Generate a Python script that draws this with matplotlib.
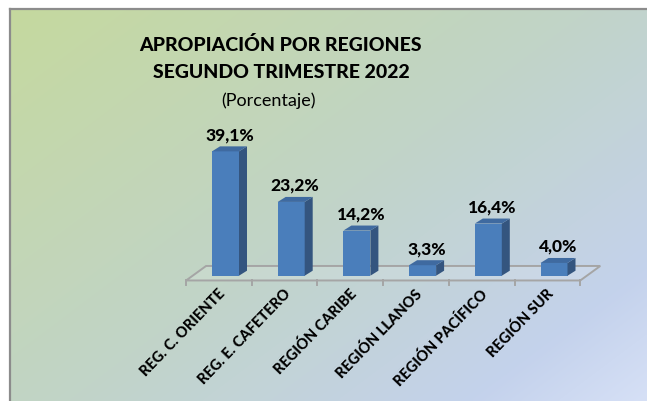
import numpy as np
import matplotlib
matplotlib.use("Agg")
import matplotlib.pyplot as plt
from matplotlib.patches import Polygon
from matplotlib.lines import Line2D

plt.rcParams['font.family'] = ['Lato', 'DejaVu Sans']

categories = ["REG. C. ORIENTE", "REG. E. CAFETERO", "REGIÓN CARIBE",
              "REGIÓN LLANOS", "REGIÓN PACÍFICO", "REGIÓN SUR"]
values = [39.1, 23.2, 14.2, 3.3, 16.4, 4.0]
value_labels = ["39,1%", "23,2%", "14,2%", "3,3%", "16,4%", "4,0%"]
title_lines = ["APROPIACIÓN POR REGIONES", "SEGUNDO TRIMESTRE 2022"]
subtitle = "(Porcentaje)"

W, H = 647, 402
fig = plt.figure(figsize=(W / 100, H / 100), dpi=100)
fig.patch.set_facecolor("white")

# background gradient box
bx0, by0 = 10, 10
bg = fig.add_axes([bx0 / W, 0, (W - bx0) / W, (H - by0) / H])
ny, nx = 200, 320
yy, xx = np.mgrid[0:ny, 0:nx]
t = (xx / (nx - 1) * 0.55 + yy / (ny - 1) * 0.45)
stops = np.array([0.0, 0.5, 0.85, 1.0])
cols = np.array([[197, 217, 158], [193, 212, 200], [196, 210, 236], [214, 224, 246]]) / 255
img = np.zeros((ny, nx, 3))
for c in range(3):
    img[..., c] = np.interp(t, stops, cols[:, c])
bg.imshow(img, extent=[0, 1, 0, 1], aspect="auto", origin="upper", interpolation="bilinear")
bg.set_xlim(0, 1); bg.set_ylim(0, 1)
bg.axis("off")
fig.add_artist(Line2D([bx0 / W, bx0 / W], [0, 1 - by0 / H], transform=fig.transFigure,
                      color="#8c8c8c", lw=1.6))
fig.add_artist(Line2D([bx0 / W, 1], [1 - by0 / H, 1 - by0 / H], transform=fig.transFigure,
                      color="#8c8c8c", lw=1.6))

# main axes mapped so that categories/values land in the right place
ax = fig.add_axes([0, 0, 1, 1])
ax.patch.set_alpha(0)
px_per_cat = 65.7
px_per_val = 3.18
x0_px = 225.5
y0_px = 276.7
ax.set_xlim(-x0_px / px_per_cat, (W - x0_px) / px_per_cat)
ax.set_ylim((y0_px - H) / px_per_val, y0_px / px_per_val)
ax.axis("off")

x = np.arange(len(categories))
bw = 27 / px_per_cat
ddx = 8 / px_per_cat
ddy = 5 / px_per_val

# floor
fx0, fx1 = -0.6, 5.4
fy0 = -1.5
fdx, fdy = 20 / px_per_cat, 14.5 / px_per_val
floor = Polygon([(fx0, fy0), (fx1, fy0), (fx1 + fdx, fy0 + fdy), (fx0 + fdx, fy0 + fdy)],
                closed=True, facecolor=(1, 1, 1, 0.12), edgecolor="#a5a5a5", lw=1.4, zorder=1)
ax.add_patch(floor)
tick_len = 5 / px_per_val
for k in range(len(categories) + 1):
    ax.plot([fx0 + k, fx0 + k], [fy0, fy0 - tick_len], color="#a5a5a5", lw=1.4, zorder=1)

front_c = "#4a7ebb"
side_c = "#34557f"
top_c = "#3f6aa0"
ax.bar(x, values, width=bw, color=front_c, zorder=3)
for xi, v in zip(x, values):
    side = Polygon([(xi + bw / 2, 0), (xi + bw / 2 + ddx, ddy), (xi + bw / 2 + ddx, v + ddy),
                    (xi + bw / 2, v)], closed=True, facecolor=side_c, edgecolor="none", zorder=3)
    top = Polygon([(xi - bw / 2, v), (xi + bw / 2, v), (xi + bw / 2 + ddx, v + ddy),
                   (xi - bw / 2 + ddx, v + ddy)], closed=True, facecolor=top_c, edgecolor="none", zorder=3)
    ax.add_patch(side)
    ax.add_patch(top)

for xi, v, lab in zip(x, values, value_labels):
    ax.annotate(lab, (xi + ddx / 2, v + ddy), xytext=(0, 3), textcoords="offset points",
                ha="center", va="bottom", fontsize=12.5, fontweight="black", color="black", zorder=5)

for xi, cat in zip(x, categories):
    ax.text(xi - 0.04, -4.8, cat, rotation=46, ha="right", va="center", rotation_mode="anchor",
            fontsize=10.5, fontweight="black", color="black")

fig.text(280 / W, 1 - 45 / H, title_lines[0], ha="center", va="center", fontsize=14, fontweight="black")
fig.text(281 / W, 1 - 73 / H, title_lines[1], ha="center", va="center", fontsize=14, fontweight="black")
fig.text(268 / W, 1 - 101 / H, subtitle, ha="center", va="center", fontsize=13)

fig.savefig("out.png", dpi=100)
